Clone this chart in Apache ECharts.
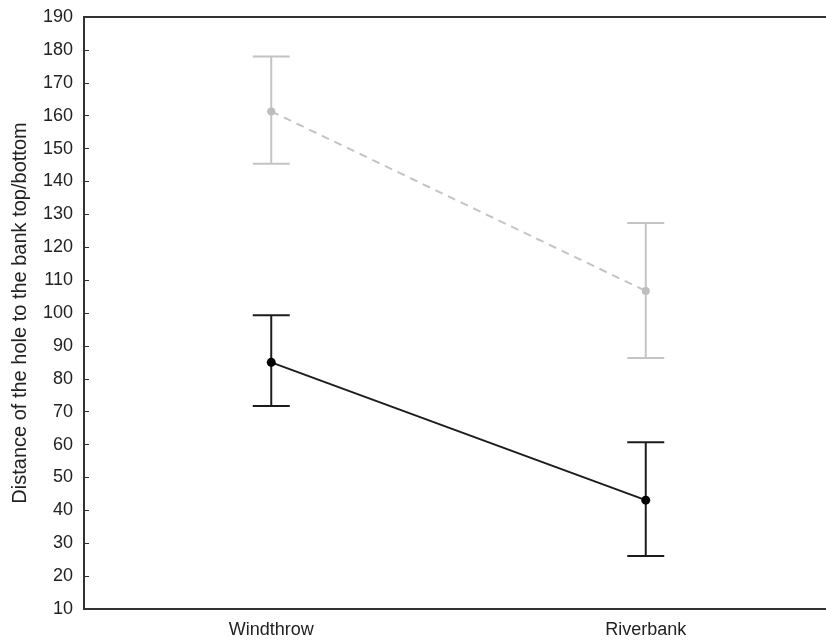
<!DOCTYPE html>
<html>
<head>
<meta charset="utf-8">
<script src="https://cdn.jsdelivr.net/npm/echarts@6/dist/echarts.min.js"></script>
<style>
  html, body { margin: 0; padding: 0; background: #fff; }
  #main { width: 826px; height: 644px; }
</style>
</head>
<body>
<div id="main"></div>
<script>
// categories on the x axis
var categories = ['Windthrow', 'Riverbank']

// grey (dashed) group: mean and error bar ends
var greyMean = [161.3, 106.7]
var greyLow = [145.4, 86.3]
var greyHigh = [178.0, 127.4]

// black (solid) group
var blackMean = [85.0, 43.1]
var blackLow = [71.7, 26.1]
var blackHigh = [99.3, 60.7]

var yMin = 10
var yMax = 190
var yStep = 10

var chartDom = document.getElementById('main')
var myChart = echarts.init(chartDom)

function barData(low, high) {
  var out = []
  for (var i = 0; i < categories.length; i++) {
    out.push([i, low[i], high[i]])
  }
  return out
}

// draws a vertical whisker with a cap at each end
function errorBar(color) {
  return function (params, api) {
    var top = api.coord([api.value(0), api.value(2)])
    var bottom = api.coord([api.value(0), api.value(1)])
    var half = 18.5
    var style = { stroke: color, lineWidth: 2 }
    return {
      type: 'group',
      children: [
        { type: 'line', shape: { x1: top[0], y1: top[1], x2: bottom[0], y2: bottom[1] }, style: style },
        { type: 'line', shape: { x1: top[0] - half, y1: top[1], x2: top[0] + half, y2: top[1] }, style: style },
        { type: 'line', shape: { x1: bottom[0] - half, y1: bottom[1], x2: bottom[0] + half, y2: bottom[1] }, style: style },
      ],
    }
  }
}

var axisFont = { fontFamily: 'Liberation Sans, Arial, sans-serif', fontSize: 18, color: '#222' }

var option = {
  animation: false,
  backgroundColor: '#fff',
  grid: {
    left: 84,
    right: -7,
    top: 17,
    bottom: 35,
    outerBoundsMode: 'none',
    containLabel: false,
    show: true,
    borderColor: '#333',
    borderWidth: 2,
    backgroundColor: 'transparent',
  },
  xAxis: {
    type: 'category',
    data: categories,
    axisLine: { lineStyle: { color: '#333', width: 2 } },
    axisTick: { inside: true, length: 4, alignWithLabel: true, lineStyle: { color: '#333' } },
    axisLabel: Object.assign({ margin: 12 }, axisFont),
    splitLine: { show: false },
  },
  yAxis: {
    type: 'value',
    min: yMin,
    max: yMax,
    interval: yStep,
    name: 'Distance of the hole to the bank top/bottom',
    nameLocation: 'middle',
    nameGap: 54,
    nameTextStyle: { fontFamily: 'Liberation Sans, Arial, sans-serif', fontSize: 20, color: '#222' },
    axisLine: { show: true, lineStyle: { color: '#333', width: 2 } },
    axisTick: { show: true, inside: true, length: 5, lineStyle: { color: '#333' } },
    axisLabel: Object.assign({ margin: 11 }, axisFont),
    splitLine: { show: false },
  },
  series: [
    {
      type: 'custom',
      renderItem: errorBar('#c4c4c4'),
      data: barData(greyLow, greyHigh),
      z: 1,
    },
    {
      type: 'line',
      data: greyMean,
      symbol: 'circle',
      symbolSize: 8,
      itemStyle: { color: '#bdbdbd' },
      lineStyle: { color: '#c4c4c4', width: 2, type: [8, 6] },
      z: 2,
    },
    {
      type: 'custom',
      renderItem: errorBar('#1c1c1c'),
      data: barData(blackLow, blackHigh),
      z: 3,
    },
    {
      type: 'line',
      data: blackMean,
      symbol: 'circle',
      symbolSize: 9,
      itemStyle: { color: '#000' },
      lineStyle: { color: '#1c1c1c', width: 2 },
      z: 4,
    },
  ],
}

option && myChart.setOption(option)
</script>
</body>
</html>
